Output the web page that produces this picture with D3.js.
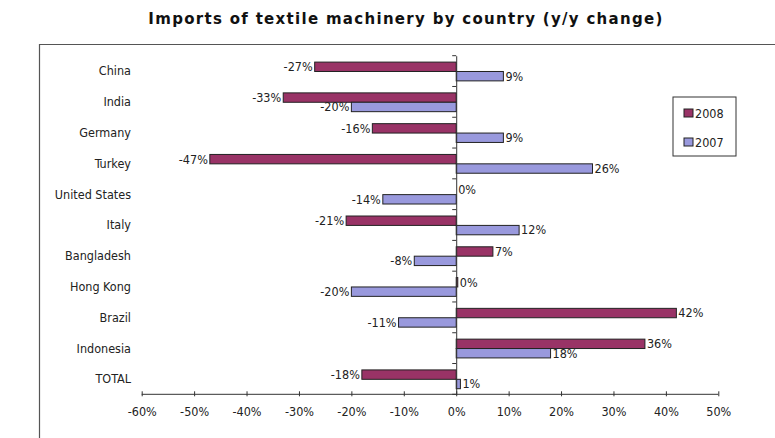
<!DOCTYPE html>
<html>
<head>
<meta charset="utf-8">
<script src="https://cdn.jsdelivr.net/npm/d3@7"></script>
<style>
  body { margin: 0; background: #fff; }
  text { font-family: "DejaVu Sans Condensed", "DejaVu Sans", sans-serif; fill: #222; }
  .title { font-family: "DejaVu Sans", sans-serif; font-weight: bold; font-size: 15px; letter-spacing: 1.3px; fill: #111; }
</style>
</head>
<body>
<div id="chart"></div>
<script>
const categories = ["China", "India", "Germany", "Turkey", "United States", "Italy",
  "Bangladesh", "Hong Kong", "Brazil", "Indonesia", "TOTAL"];
const values2008 = [-27, -33, -16, -47, 0, -21, 7, 0.3, 42, 36, -18];
const values2007 = [9, -20, 9, 26, -14, 12, -8, -20, -11, 18, 0.8];
const seriesNames = ["2008", "2007"];
const xTicks = [-60, -50, -40, -30, -20, -10, 0, 10, 20, 30, 40, 50];

const colors = { "2008": "#993366", "2007": "#9999dd" };

const width = 775, height = 438;

const svg = d3.select("#chart").append("svg")
  .attr("width", width)
  .attr("height", height);

// title
svg.append("text")
  .attr("class", "title")
  .attr("x", 406)
  .attr("y", 24)
  .attr("text-anchor", "middle")
  .text("Imports of textile machinery by country (y/y change)");

// chart frame (runs off right and bottom edges)
svg.append("path")
  .attr("d", "M39.5,438 V44.5 H775")
  .attr("fill", "none")
  .attr("stroke", "#555")
  .attr("stroke-width", 1.2);

const x = d3.scaleLinear().domain([-60, 50]).range([141.7, 718.3]);
const y = d3.scaleBand().domain(categories).range([55.7, 394.3]);
const sub = d3.scaleBand().domain(seriesNames).range([6.4, y.bandwidth() - 5.6]);

const rows = categories.map((c, i) => ({ cat: c, "2008": values2008[i], "2007": values2007[i] }));

// x axis
const xAxis = d3.axisBottom(x)
  .tickValues(xTicks)
  .tickSize(4)
  .tickPadding(9)
  .tickFormat(d => d + "%");

svg.append("g")
  .attr("transform", "translate(0," + 394.3 + ")")
  .call(xAxis)
  .call(g => g.select(".domain").attr("stroke", "#333").attr("d", "M" + x(-60) + ",0H" + x(50)))
  .call(g => g.selectAll(".tick line").attr("stroke", "#333").attr("y1", -3).attr("y2", 2))
  .call(g => g.selectAll(".tick text").attr("font-size", 12.5).attr("fill", "#222")
    .attr("font-family", "DejaVu Sans Condensed"));

// bars
const groups = svg.append("g").selectAll("g")
  .data(rows)
  .join("g")
  .attr("transform", d => "translate(0," + y(d.cat) + ")");

seriesNames.forEach(s => {
  groups.append("rect")
    .attr("x", d => x(Math.min(0, d[s])))
    .attr("y", sub(s))
    .attr("width", d => Math.abs(x(d[s]) - x(0)))
    .attr("height", sub.bandwidth())
    .attr("fill", colors[s])
    .attr("stroke", "#222")
    .attr("stroke-width", 1);

  groups.append("text")
    .attr("x", d => d[s] < 0 ? x(d[s]) - 2 : x(d[s]) + 2)
    .attr("y", sub(s) + sub.bandwidth() / 2)
    .attr("dy", "0.35em")
    .attr("text-anchor", d => d[s] < 0 ? "end" : "start")
    .attr("font-size", 12.5)
    .text(d => Math.round(d[s]) + "%");
});

// zero axis
const yAxis = d3.axisLeft(y).tickSize(0).tickFormat("");
svg.append("g")
  .attr("transform", "translate(" + x(0) + ",0)")
  .call(yAxis)
  .call(g => g.select(".domain").attr("stroke", "#333"))
  .call(g => g.selectAll(".tick").remove());

// category separator ticks on the zero axis
svg.append("g").selectAll("line")
  .data(categories.concat(["end"]))
  .join("line")
  .attr("x1", x(0) - 4)
  .attr("x2", x(0))
  .attr("y1", (d, i) => 55.7 + i * y.step())
  .attr("y2", (d, i) => 55.7 + i * y.step())
  .attr("stroke", "#333");

// category labels
svg.append("g").selectAll("text")
  .data(categories)
  .join("text")
  .attr("x", 131)
  .attr("y", d => y(d) + y.bandwidth() / 2)
  .attr("dy", "0.35em")
  .attr("text-anchor", "end")
  .attr("font-size", 12.5)
  .text(d => d);

// legend
const legend = svg.append("g").attr("transform", "translate(673,97)");
legend.append("rect")
  .attr("width", 63)
  .attr("height", 59)
  .attr("fill", "#fff")
  .attr("stroke", "#333")
  .attr("stroke-width", 1);

seriesNames.forEach((s, i) => {
  const ly = 12 + i * 29;
  legend.append("rect")
    .attr("x", 11)
    .attr("y", ly)
    .attr("width", 9)
    .attr("height", 8)
    .attr("fill", colors[s])
    .attr("stroke", "#222");
  legend.append("text")
    .attr("x", 22)
    .attr("y", ly + 4)
    .attr("dy", "0.38em")
    .attr("font-size", 12.5)
    .text(s);
});
</script>
</body>
</html>
